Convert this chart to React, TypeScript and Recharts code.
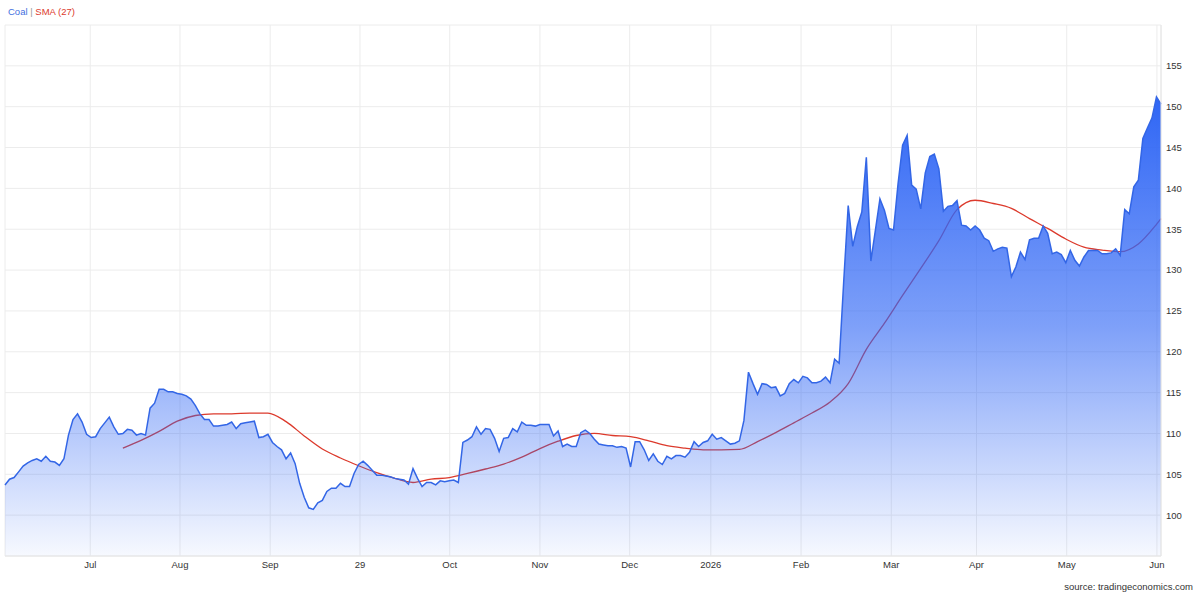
import {
	Area,
	CartesianGrid,
	ComposedChart,
	XAxis,
	YAxis,
} from "recharts";

// daily coal close, one value per trading day (Jun 2025 -> Jun 2026)
const coalClose = [
	// Jun - Jul
	103.7, 104.4, 104.6, 105.3, 106.0, 106.4, 106.7, 106.9, 106.6, 107.2, 106.6,
	106.5, 106.1, 106.9, 109.8, 111.7, 112.4, 111.4, 109.9, 109.5, 109.6, 110.6,
	111.3, 112.0, 110.8, 109.9, 110.0, 110.5, 110.4, 109.8, 110.0, 109.8, 113.1,
	113.7, 115.4, 115.4, 115.1, 115.1, 114.9, 114.8, 114.6, 114.2, 113.4,
	// Aug - Sep
	112.4, 111.7, 111.7, 110.9, 110.9, 111.0, 111.1, 111.4, 110.6, 111.2, 111.3,
	111.4, 111.5, 109.5, 109.6, 109.9, 108.9, 108.4, 108.0, 106.9, 107.6, 106.3,
	103.9, 102.2, 100.9, 100.7, 101.5, 101.8, 102.9, 103.3, 103.3, 103.9, 103.5,
	103.5, 105.1, 106.2, 106.6, 106.1, 105.5, 104.9, 104.9, 104.8, 104.7, 104.5,
	104.4,
	// Oct - Nov
	104.3, 103.8, 105.7, 104.5, 103.5, 104.0, 104.0, 103.7, 104.2, 104.1, 104.2,
	104.3, 104.0, 108.9, 109.2, 109.6, 110.8, 109.9, 110.6, 110.5, 109.4, 107.8,
	109.4, 109.5, 110.6, 110.2, 111.4, 111.0, 111.0, 110.9, 111.1, 111.1, 111.1,
	109.7, 110.3, 108.4, 108.7, 108.4, 108.4, 110.1, 110.4, 110.0, 109.3, 108.7,
	108.6,
	// Dec - Feb
	108.5, 108.5, 108.3, 108.4, 108.2, 105.9, 109.0, 109.0, 108.0, 106.7, 107.5,
	106.6, 106.2, 107.2, 106.9, 107.3, 107.3, 107.1, 107.7, 109.0, 108.4, 108.9,
	109.1, 109.9, 109.3, 109.5, 109.1, 108.7, 108.8, 109.1, 111.6, 117.5, 116.1,
	114.8, 116.1, 116.0, 115.6, 115.7, 114.6, 114.9, 116.1, 116.6, 116.2, 117.0,
	116.8, 116.2, 116.2, 116.4, 116.9, 116.2, 119.1, 118.6, 128.5,
	// Feb - Apr
	137.9, 132.9, 135.3, 137.1, 143.8, 131.1, 134.9, 138.7, 137.3, 135.1, 134.9,
	140.6, 145.3, 146.5, 140.4, 139.9, 137.5, 141.9, 143.9, 144.2, 142.4, 137.2,
	137.8, 137.9, 138.5, 135.5, 135.4, 134.9, 135.4, 134.9, 133.9, 133.6, 132.3,
	// Apr - Jun
	132.6, 132.8, 132.7, 129.2, 130.4, 132.2, 131.3, 133.7, 133.9, 133.9, 135.4,
	134.5, 132.0, 132.2, 131.9, 130.9, 132.4, 131.2, 130.5, 131.6, 132.4, 132.4,
	132.4, 132.0, 132.0, 132.1, 132.6, 131.8, 137.4, 136.9, 140.2, 141.0, 146.1,
	147.4, 148.6, 151.2, 150.3,
];

// SMA(27) every 4th trading day, starting at day 26
const SMA_START = 26;
const SMA_STEP = 4;
const smaValues = [
	108.2, 109.15, 110.25, 111.5, 112.2, 112.4, 112.4, 112.5, 112.5, 111.45,
	109.7, 108.1, 107.0, 106.05, 105.2, 104.5, 104.0, 104.4, 104.6, 105.1,
	105.65, 106.25, 107.1, 108.15, 109.05, 109.75, 110.0, 109.75, 109.6, 109.1,
	108.5, 108.2, 108.0, 108.0, 108.05, 109.0, 110.1, 111.3, 112.5, 113.85,
	116.1, 120.3, 123.5, 126.9, 130.2, 133.6, 137.4, 138.55, 138.15, 137.55,
	136.3, 135.1, 133.8, 132.8, 132.45, 132.25, 133.2, 135.6, 136.3,
];

const tickDays = [
	18.8, 38.6, 58.5, 78.3, 98.1, 118.0, 137.8, 155.7, 175.6, 195.5, 214.3,
	234.2, 254.1,
];
const tickLabels = [
	"Jul", "Aug", "Sep", "29", "Oct", "Nov", "Dec", "2026", "Feb", "Mar", "Apr",
	"May", "Jun",
];
const priceTicks = [100, 105, 110, 115, 120, 125, 130, 135, 140, 145, 150, 155, 160];

const FONT = '"Liberation Sans", Arial, sans-serif';
const BLUE = "#3366e6";
const RED = "#dc3a2c";

const lastDay = coalClose.length - 1;

const chartData: { day: number; coal: number; sma: number | null }[] =
	coalClose.map((v, i) => ({ day: i, coal: v, sma: null }));
smaValues.forEach((v, k) => {
	const idx = Math.min(SMA_START + k * SMA_STEP, lastDay);
	chartData[idx].sma = v;
});

function dayLabel(v: number): string {
	const i = tickDays.indexOf(v);
	return i >= 0 ? tickLabels[i] : "";
}

export default function App() {
	return (
		<div
			style={{
				position: "absolute",
				left: 0,
				top: 0,
				width: 1200,
				height: 594,
				background: "#fff",
				fontFamily: FONT,
			}}
		>
			<div
				style={{
					position: "absolute",
					left: 8,
					top: 6,
					fontSize: 9.5,
					whiteSpace: "pre",
				}}
			>
				<span style={{ color: "#3f6fe0" }}>Coal</span>
				<span style={{ color: "#999" }}> | </span>
				<span style={{ color: RED }}>SMA (27)</span>
			</div>

			<ComposedChart
				width={1200}
				height={594}
				data={chartData}
				margin={{ top: 25, right: 4, bottom: 18, left: 5 }}
			>
				<defs>
					<linearGradient id="coalFill" x1="0" y1="0" x2="0" y2="1">
						<stop offset="0%" stopColor="#2f66f5" stopOpacity={1} />
						<stop offset="50%" stopColor="#2f66f5" stopOpacity={0.62} />
						<stop offset="100%" stopColor="#2f66f5" stopOpacity={0.04} />
					</linearGradient>
				</defs>
				<CartesianGrid stroke="#ececec" strokeWidth={1} />
				<XAxis
					dataKey="day"
					type="number"
					domain={[0, lastDay]}
					ticks={tickDays}
					interval={0}
					tickFormatter={dayLabel}
					height={20}
					tickSize={3}
					tickMargin={2}
					tickLine={false}
					axisLine={{ stroke: "#e6e6e6" }}
					tick={{ fontSize: 9.5, fill: "#333", fontFamily: FONT }}
				/>
				<YAxis
					orientation="right"
					domain={[95, 160]}
					ticks={priceTicks}
					interval={0}
					width={35}
					tickSize={3}
					tickMargin={2}
					tickLine={false}
					axisLine={{ stroke: "#e6e6e6" }}
					tickFormatter={(v: number) => (v === 160 ? "" : String(v))}
					tick={{ fontSize: 9.5, fill: "#333", fontFamily: FONT }}
					allowDataOverflow
				/>
				{/* SMA drawn first so the translucent coal fill sits over it */}
				<Area
					type="monotone"
					dataKey="sma"
					stroke={RED}
					strokeWidth={1.3}
					fill="none"
					dot={false}
					activeDot={false}
					connectNulls
					isAnimationActive={false}
				/>
				<Area
					type="linear"
					dataKey="coal"
					stroke={BLUE}
					strokeWidth={1.5}
					fill="url(#coalFill)"
					fillOpacity={1}
					baseValue={95}
					dot={false}
					activeDot={false}
					isAnimationActive={false}
				/>
			</ComposedChart>

			<div
				style={{
					position: "absolute",
					right: 7,
					top: 581,
					fontSize: 9.5,
					color: "#333",
				}}
			>
				source: tradingeconomics.com
			</div>
		</div>
	);
}
